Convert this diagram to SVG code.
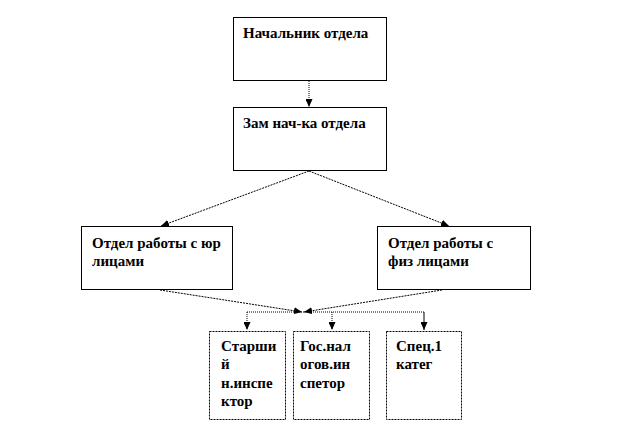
<svg xmlns="http://www.w3.org/2000/svg" width="624" height="438" viewBox="0 0 624 438">
<defs>
<marker id="ah" markerWidth="8" markerHeight="7" refX="8" refY="3.5" orient="auto" markerUnits="userSpaceOnUse">
<path d="M0,0 L8,3.5 L0,7 z" fill="#000"/>
</marker>
</defs>
<style>
.box{fill:#fff;stroke:#000;stroke-width:1}
.sbox{fill:#fff;stroke:#000;stroke-width:1;stroke-dasharray:2,1}
.t{font-family:'Liberation Serif','Times New Roman',serif;font-weight:bold;font-size:15px;fill:#000}
.c{fill:none;stroke:#000;stroke-width:1;stroke-dasharray:2,1}
.d{fill:none;stroke:#000;stroke-width:1;stroke-dasharray:1,1}
</style>
<rect width="624" height="438" fill="#fff"/>
<g id="connectors">
<line class="d" x1="309" y1="81" x2="309" y2="107" marker-end="url(#ah)"/>
<line class="c" x1="309" y1="171" x2="161" y2="226" marker-end="url(#ah)"/>
<line class="c" x1="309" y1="171" x2="449" y2="226" marker-end="url(#ah)"/>
<line class="c" x1="160" y1="290" x2="302" y2="312" marker-end="url(#ah)"/>
<line class="c" x1="442" y1="290" x2="304" y2="312" marker-end="url(#ah)"/>
<line class="d" x1="247" y1="312" x2="424" y2="312"/>
<line class="d" x1="247" y1="312" x2="247" y2="330" marker-end="url(#ah)"/>
<line class="d" x1="332" y1="312" x2="332" y2="330" marker-end="url(#ah)"/>
<line x1="424" y1="312" x2="424" y2="330" stroke="#000" stroke-width="1" marker-end="url(#ah)"/>
</g>
<g id="n1">
<rect class="box" x="233.5" y="17.5" width="153" height="63"/>
<text class="t" x="243" y="38">Начальник отдела</text>
</g>
<g id="n2">
<rect class="box" x="233.5" y="107.5" width="153" height="63"/>
<text class="t" x="243" y="128">Зам нач-ка отдела</text>
</g>
<g id="n3">
<rect class="box" x="81.5" y="226.5" width="151" height="63"/>
<text class="t" x="92" y="248">Отдел работы с юр</text>
<text class="t" x="92" y="266">лицами</text>
</g>
<g id="n4">
<rect class="box" x="377.5" y="226.5" width="153" height="63"/>
<text class="t" x="388" y="248">Отдел работы с</text>
<text class="t" x="388" y="266">физ лицами</text>
</g>
<g id="n5">
<rect class="sbox" x="209.5" y="331.5" width="76" height="88"/>
<text class="t" x="221" y="351">Старши</text>
<text class="t" x="221" y="369">й</text>
<text class="t" x="221" y="388">н.инспе</text>
<text class="t" x="221" y="406">ктор</text>
</g>
<g id="n6">
<rect class="sbox" x="293.5" y="331.5" width="76" height="88"/>
<text class="t" x="300" y="351">Гос.нал</text>
<text class="t" x="300" y="369">огов.ин</text>
<text class="t" x="300" y="388">спетор</text>
</g>
<g id="n7">
<rect class="sbox" x="386.5" y="331.5" width="75" height="88"/>
<text class="t" x="396" y="351">Спец.1</text>
<text class="t" x="396" y="369">катег</text>
</g>
</svg>
